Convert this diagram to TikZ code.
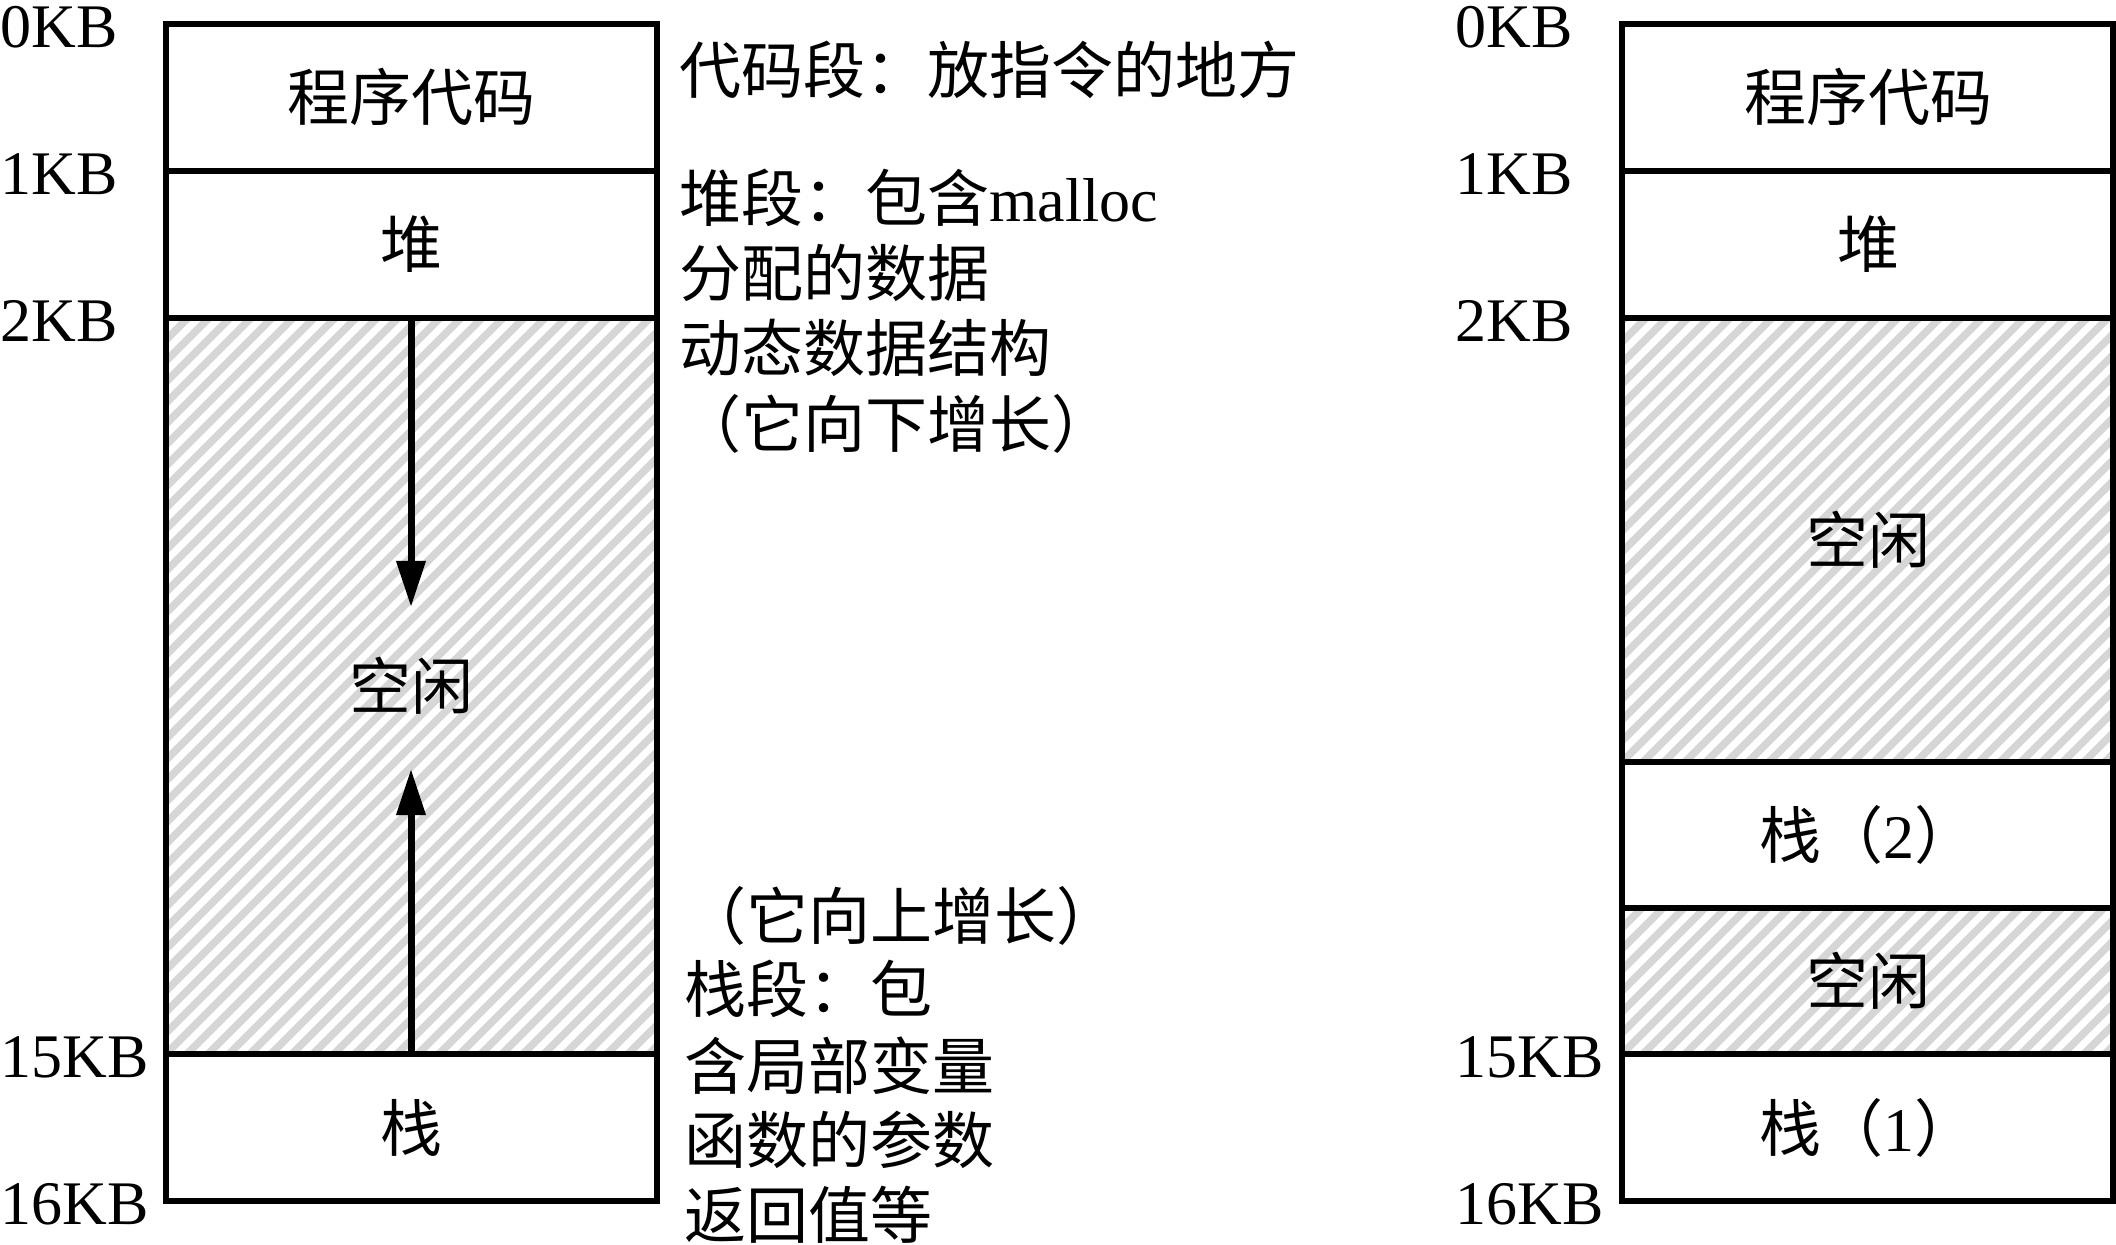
\documentclass[tikz,border=0pt]{standalone}
\usepackage{fontspec}
\setmainfont{Liberation Serif}
\newfontfamily\cjk{Noto Sans CJK SC}
\usetikzlibrary{arrows.meta}
\newcommand\myhatch[4]{%
  \begin{scope}
    \clip (#1,#2) rectangle (#3,#4);
    \foreach \k in {-50,...,30} \draw[hatch] ({#1+\k*21},#4) -- ++(1000,-1000);
  \end{scope}}
\begin{document}
\begin{tikzpicture}[x=0.5pt,y=-0.5pt,
  box/.style={draw=black,line width=2.7pt},
  hatch/.style={draw=black!16,line width=3.8pt},
  txt/.style={inner sep=0pt,font=\fontsize{31}{37}\selectfont,text height=23.6pt,text depth=0pt},
  note/.style={txt,anchor=west},
  kb/.style={txt,anchor=west},
  arr/.style={line width=3.5pt,-{Triangle[length=23pt,width=14pt]}}]
\useasboundingbox (0,0) rectangle (2116,1245);
% hatched areas
\myhatch{166}{318}{657}{1054}
\myhatch{1622}{318}{2113}{762}
\myhatch{1622}{908}{2113}{1054}
% left box
\draw[box] (166,24) rectangle (657,1201);
\draw[box] (166,171) -- (657,171);
\draw[box] (166,318) -- (657,318);
\draw[box] (166,1054) -- (657,1054);
% right box
\draw[box] (1622,24) rectangle (2113,1201);
\foreach \yy in {171,318,762,908,1054} \draw[box] (1622,\yy) -- (2113,\yy);
% left labels
\node[kb] (l0) at (0,24) {0KB};
\node[kb] (l1) at (0,171) {1KB};
\node[kb] (l2) at (0,318) {2KB};
\node[kb] (l15) at (0,1054) {15KB};
\node[kb] (l16) at (0,1201) {16KB};
% right labels
\node[kb] (r0) at (1455,24) {0KB};
\node[kb] (r1) at (1455,171) {1KB};
\node[kb] (r2) at (1455,318) {2KB};
\node[kb] (r15) at (1455,1054) {15KB};
\node[kb] (r16) at (1455,1201) {16KB};
% left box texts
\node[txt] (lcode) at (411,97) {\cjk 程序代码};
\node[txt] (lheap) at (411,244) {\cjk 堆};
\node[txt] (lfree) at (411,686) {\cjk 空闲};
\node[txt] (lstack) at (411,1128) {\cjk 栈};
% right box texts
\node[txt] (rcode) at (1868,97) {\cjk 程序代码};
\node[txt] (rheap) at (1868,244) {\cjk 堆};
\node[txt] (rfree) at (1868,540) {\cjk 空闲};
\node[txt] (rstack2) at (1868,835) {{\cjk 栈（}2{\cjk ）}};
\node[txt] (rfree2) at (1868,981) {\cjk 空闲};
\node[txt] (rstack1) at (1868,1128) {{\cjk 栈（}1{\cjk ）}};
% arrows
\coordinate (hs) at (411,318);
\coordinate (he) at (411,607);
\coordinate (ss) at (411,1054);
\coordinate (se) at (411,769);
\draw[arr] (hs) -- (he);
\draw[arr] (ss) -- (se);
% annotations
\node[note] (n1) at (679,70) {\cjk 代码段：放指令的地方};
\node[note] (n2) at (679,198) {{\cjk 堆段：包含}malloc};
\node[note] (n3) at (679,273) {\cjk 分配的数据};
\node[note] (n4) at (679,348) {\cjk 动态数据结构};
\node[note] (n5) at (679,424) {\cjk （它向下增长）};
\node[note] (n6) at (684,916) {\cjk （它向上增长）};
\node[note] (n7) at (684,989) {\cjk 栈段：包};
\node[note] (n8) at (684,1066) {\cjk 含局部变量};
\node[note] (n9) at (684,1140) {\cjk 函数的参数};
\node[note] (n10) at (684,1215) {\cjk 返回值等};
\end{tikzpicture}
\end{document}
